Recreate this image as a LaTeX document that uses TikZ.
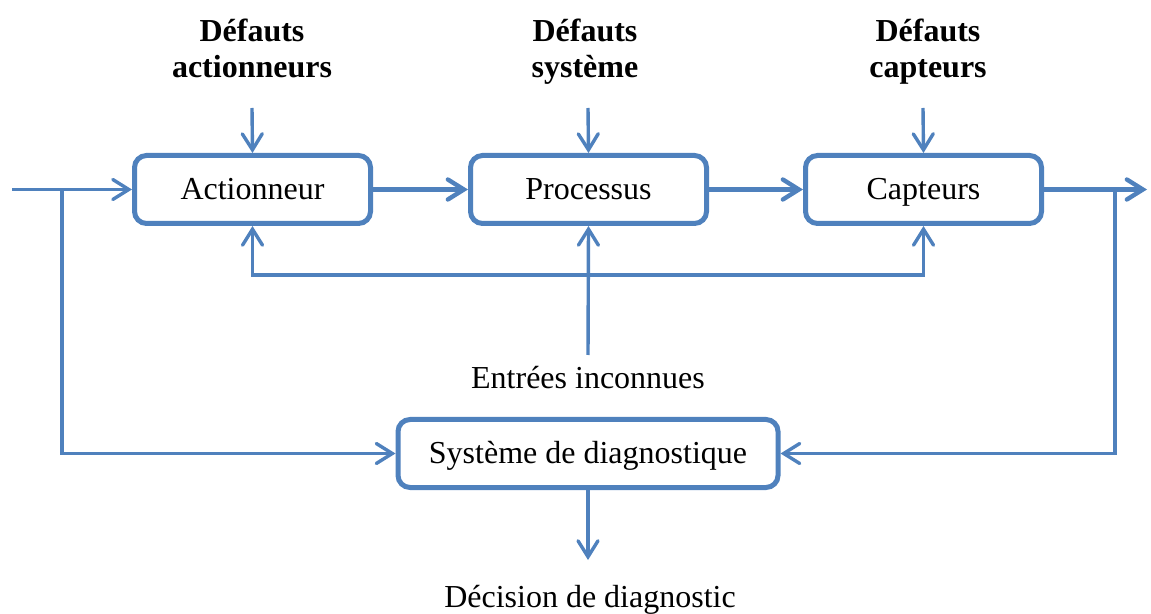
\documentclass[tikz,border=0pt]{standalone}
\usepackage{fontspec}
\setmainfont{Liberation Serif}
\usetikzlibrary{arrows.meta}
\definecolor{flow}{HTML}{4F81BD}
\begin{document}
\begin{tikzpicture}[x=0.5pt,y=-0.5pt,
  block/.style={draw=flow,line width=2.5pt,rounded corners=6pt,fill=white,
    minimum width=118pt,minimum height=34pt,inner sep=0pt,
    text height=13pt,text depth=2.5pt,font=\fontsize{16}{18}\selectfont},
  link/.style={draw=flow,line width=1.7pt},
  thick link/.style={draw=flow,line width=2.2pt},
  tip/.style={-{Straight Barb[length=8pt,width=10pt,line cap=round]}},
  label/.style={font=\fontsize{16}{18}\selectfont,inner sep=0pt},
  heading/.style={font=\bfseries\fontsize{16}{18}\selectfont,align=center,inner sep=0pt}]
\useasboundingbox (0,0) rectangle (1151,614);

% main chain
\node[block] (act)  at (252.5,189.5) {Actionneur};
\node[block] (proc) at (588.5,189.5) {Processus};
\node[block] (capt) at (923.5,189.5) {Capteurs};
\node[block,minimum width=190pt] (diag) at (588,453.5) {Système de diagnostique};

% fault sources
\node[heading] (fa) at (252,52) {Défauts\strut\\actionneurs\strut};
\node[heading] (fs) at (585,52) {Défauts\strut\\système\strut};
\node[heading] (fc) at (928,52) {Défauts\strut\\capteurs\strut};
\coordinate (fa0) at (252,108);
\coordinate (fs0) at (588,108);
\coordinate (fc0) at (923,108);
\draw[link,tip] (fa0) -- (act.north);
\draw[link,tip] (fs0) -- (proc.north);
\draw[link,tip] (fc0) -- (capt.north);

% input and output signals
\coordinate (in) at (12,189.5);
\coordinate (out) at (1147,189.5);
\coordinate (uin) at (62,189.5);
\coordinate (yout) at (1115,189.5);
\draw[link,tip] (in) -- (act.west);
\draw[thick link,tip] (act.east) -- (proc.west);
\draw[thick link,tip] (proc.east) -- (capt.west);
\draw[thick link,tip] (capt.east) -- (out);

% feeds to the diagnosis block
\draw[link,tip] (uin) |- (diag.west);
\draw[link,tip] (yout) |- (diag.east);

% unknown inputs
\node[label] (unk) at (588,378) {Entrées inconnues};
\coordinate (bus) at (588,275);
\coordinate (unk0) at (588,355);
\draw[link,tip] (bus) -| (act.south);
\draw[link,tip] (bus) -| (capt.south);
\draw[link,tip] (unk0) -- (proc.south);

% decision output
\node[label] (dec) at (590,600) {Décision de diagnostic};
\coordinate (dec0) at (588,560);
\draw[link,tip] (diag.south) -- (dec0);
\end{tikzpicture}
\end{document}
